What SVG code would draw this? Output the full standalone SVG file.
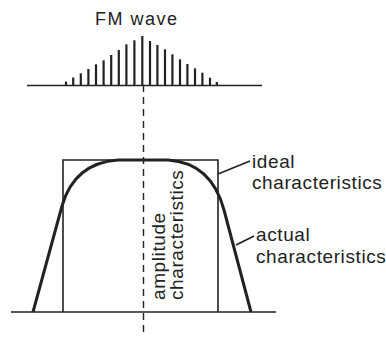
<svg xmlns="http://www.w3.org/2000/svg" width="386" height="337" viewBox="0 0 386 337">
<style>
.t{font-family:"Liberation Sans",Arial,sans-serif;font-size:19px;letter-spacing:0.6px;fill:#222}
.ln{stroke:#222;fill:none;stroke-width:1.6}
.sp{stroke:#222;stroke-width:2.2}
.dash{stroke:#222;stroke-width:1.4;stroke-dasharray:7 5;fill:none}
</style>
<rect width="386" height="337" fill="#fff"/>
<g id="fm-wave">
<text class="t" x="95" y="25" style="font-size:18px;letter-spacing:1.5px">FM wave</text>
<line class="ln" x1="27" y1="85.5" x2="262" y2="85.5"/>
<g class="sp">
<line x1="66" y1="85.5" x2="66" y2="81.5"/>
<line x1="73.2" y1="85.5" x2="73.2" y2="77.5"/>
<line x1="80.8" y1="85.5" x2="80.8" y2="73.3"/>
<line x1="88.4" y1="85.5" x2="88.4" y2="69"/>
<line x1="96" y1="85.5" x2="96" y2="64.3"/>
<line x1="103.6" y1="85.5" x2="103.6" y2="60.3"/>
<line x1="111.2" y1="85.5" x2="111.2" y2="55"/>
<line x1="118.8" y1="85.5" x2="118.8" y2="50"/>
<line x1="126.4" y1="85.5" x2="126.4" y2="44.3"/>
<line x1="134.4" y1="85.5" x2="134.4" y2="40.3"/>
<line x1="142.3" y1="85.5" x2="142.3" y2="36"/>
<line x1="150" y1="85.5" x2="150" y2="41"/>
<line x1="157.4" y1="85.5" x2="157.4" y2="45"/>
<line x1="165" y1="85.5" x2="165" y2="49.3"/>
<line x1="172.4" y1="85.5" x2="172.4" y2="54.3"/>
<line x1="180" y1="85.5" x2="180" y2="59.3"/>
<line x1="187.4" y1="85.5" x2="187.4" y2="64"/>
<line x1="195" y1="85.5" x2="195" y2="68.3"/>
<line x1="202.4" y1="85.5" x2="202.4" y2="72.7"/>
<line x1="210" y1="85.5" x2="210" y2="77.7"/>
<line x1="216.8" y1="85.5" x2="216.8" y2="82"/>
</g>
</g>
<g id="axis">
<line class="dash" x1="143.5" y1="85" x2="143.5" y2="337"/>
<line class="ln" x1="11" y1="312" x2="276" y2="312"/>
</g>
<g id="ideal">
<path class="ln" d="M63,312 V160 H218 V312"/>
</g>
<g id="actual">
<path d="M33,312 L62,206 C70,178 88,162 118,160 L168,160 C198,162 216,180 224,210 L251,312" fill="none" stroke="#222" stroke-width="3"/>
</g>
<g id="connectors">
<line class="ln" x1="218" y1="174" x2="250" y2="161" stroke-width="1.2"/>
<line class="ln" x1="236" y1="245" x2="254" y2="236" stroke-width="1.2"/>
</g>
<g id="labels">
<text class="t" x="252" y="168">ideal</text>
<text class="t" x="252" y="189">characteristics</text>
<text class="t" x="256" y="241">actual</text>
<text class="t" x="256" y="263">characteristics</text>
<text class="t" transform="translate(165,300) rotate(-90)">amplitude</text>
<text class="t" transform="translate(183,300) rotate(-90)">characteristics</text>
</g>
</svg>
